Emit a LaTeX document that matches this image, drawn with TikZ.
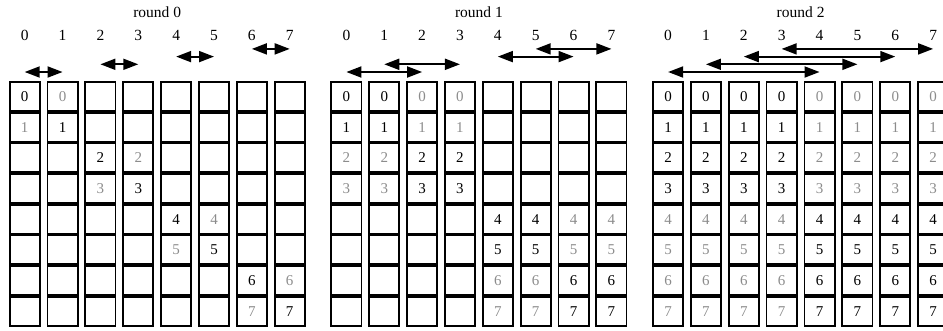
\documentclass[tikz,border=0pt]{standalone}
\usepackage{fontspec}
\setmainfont{Liberation Serif}
\usetikzlibrary{arrows.meta,positioning,calc}

\begin{document}
\begin{tikzpicture}[x=1pt, y=-1pt,
        cell/.style={rectangle, draw, line width=1.8pt, minimum width=30.2pt,
                     minimum height=28.9pt, inner sep=0pt, font=\fontsize{15}{17}\selectfont},
        lab/.style={inner sep=0pt, font=\fontsize{15.5}{17}\selectfont},
        xfer/.style={line width=1.8pt,
                     {Triangle[length=15pt,width=11pt]}-{Triangle[length=15pt,width=11pt]}}
    ]
        \useasboundingbox (0,0) rectangle (943,330);

        % Arrow levels
        \foreach \p in {0,...,3}
            \coordinate (lvl-\p) at (0, 72-7.7*\p);

        % Rounds: titles, column labels and cells
        \foreach \rd in {0,1,2} {
            \pgfmathtruncatemacro{\blk}{2^(\rd+1)}
            \pgfmathtruncatemacro{\hlf}{2^\rd}
            \node[lab] (title-\rd) at (157.2+321.7*\rd, 12) {round \rd};
            \foreach \cl in {0,...,7} {
                \node[lab] (lab-\rd-\cl) at (24.7+321.7*\rd+37.86*\cl, 35) {\cl};
                \foreach \rw in {0,...,7} {
                    \pgfmathtruncatemacro{\shown}{floor(\cl/\blk)==floor(\rw/\blk)}
                    \pgfmathtruncatemacro{\mine}{floor(\cl/\hlf)==floor(\rw/\hlf)}
                    \ifnum\mine=1 \def\tcol{black}\else\def\tcol{black!45}\fi
                    \ifnum\shown=1 \edef\txt{\rw}\else\def\txt{}\fi
                    \node[cell, text=\tcol] (cell-\rd-\cl-\rw)
                        at (24.7+321.7*\rd+37.86*\cl, 96.35+30.7*\rw) {\txt};
                }
            }
        }

        % Exchanges
        \foreach \rd/\a/\b/\p in {0/0/1/0, 0/2/3/1, 0/4/5/2, 0/6/7/3,
                                  1/0/2/0, 1/1/3/1, 1/4/6/2, 1/5/7/3,
                                  2/0/4/0, 2/1/5/1, 2/2/6/2, 2/3/7/3}
            \draw[xfer] (lab-\rd-\a |- lvl-\p) -- (lab-\rd-\b |- lvl-\p);
\end{tikzpicture}
\end{document}
